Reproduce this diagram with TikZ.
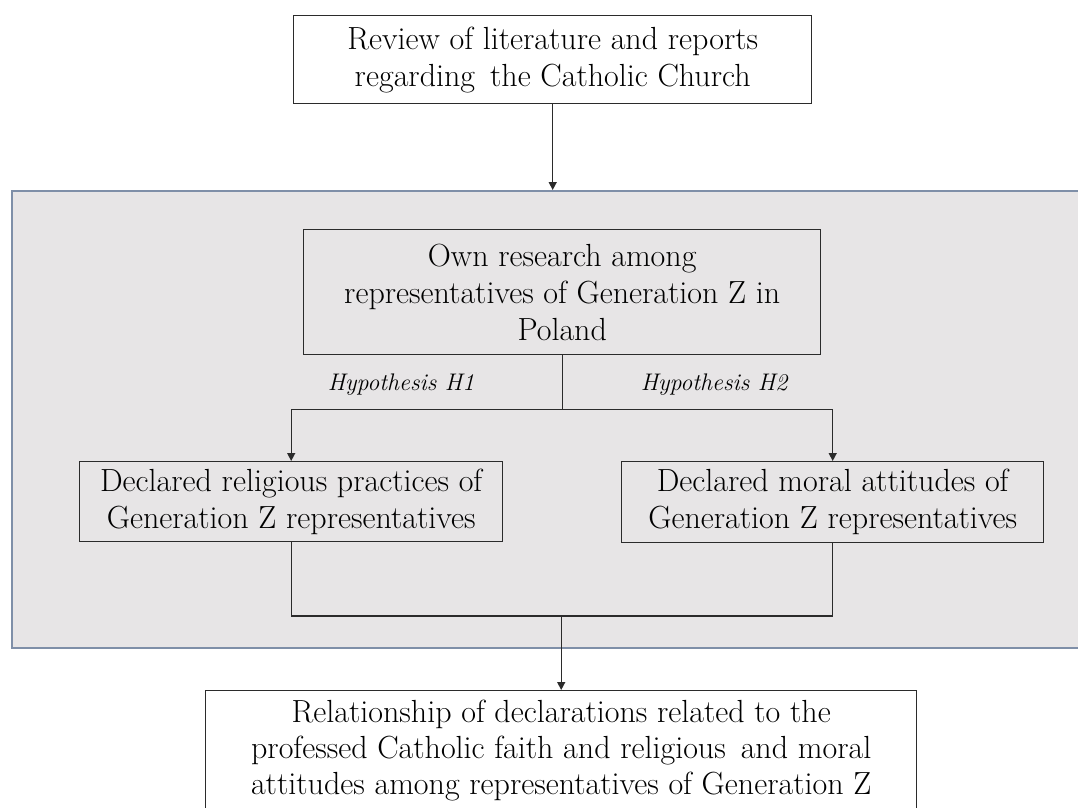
\documentclass[tikz,border=0pt]{standalone}
\usetikzlibrary{arrows.meta,calc}
\definecolor{panelfill}{HTML}{E7E5E6}
\definecolor{panelline}{HTML}{7F8FA8}
\definecolor{ink}{HTML}{2B2B2B}
\begin{document}
\begin{tikzpicture}[x=1pt,y=-1pt,
  box/.style={draw=ink, line width=1.4pt, fill=white, align=center, inner sep=0pt,
    font=\fontsize{32}{37}\selectfont, text=black},
  boxg/.style={box, fill=panelfill},
  conn/.style={draw=ink, line width=1.4pt},
  arr/.style={conn, -{Triangle[width=8pt,length=8pt]}},
  hyp/.style={font=\fontsize{24}{28}\selectfont\itshape, text=black, inner sep=0pt}]
\useasboundingbox (0,0) rectangle (1078,807);
\fill[white] (0,0) rectangle (1078,807);
% panel
\node[draw=panelline, line width=1.6pt, fill=panelfill, anchor=north west, inner sep=0pt,
  minimum width=1080pt, minimum height=457pt] (panel) at (11,190) {};
% top box
\node[box, anchor=north west, minimum width=518pt, minimum height=88pt] (review) at (293,15)
  {Review of literature and reports\\regarding\, the Catholic Church};
% own research
\node[boxg, anchor=north west, minimum width=517pt, minimum height=125pt] (own) at (303,229)
  {Own research among\\representatives of Generation Z in\\Poland};
% declared boxes
\node[boxg, anchor=north west, minimum width=423pt, minimum height=80pt] (rel) at (79,461)
  {Declared religious practices of\\Generation Z representatives};
\node[boxg, anchor=north west, minimum width=422pt, minimum height=81pt] (mor) at (621,461)
  {Declared moral attitudes of\\Generation Z representatives};
% final box
\node[box, anchor=north west, minimum width=711pt, minimum height=140pt] (fin) at (205,690) {};
\node[font=\fontsize{32}{36}\selectfont, align=center, anchor=north, inner sep=0pt] (fintext) at ($(fin.north)+(0,10)$)
  {Relationship of declarations related to the\\professed Catholic faith and religious\, and moral\\attitudes among representatives of Generation Z};
% junction coordinates
\coordinate (split) at ($(own.south)+(0,54)$);
\coordinate (splitL) at (rel.north |- split);
\coordinate (splitR) at (mor.north |- split);
\coordinate (join) at ($(fin.north)+(0,-74)$);
\coordinate (joinL) at (rel.south |- join);
\coordinate (joinR) at (mor.south |- join);
% connectors
\draw[arr] (review.south) -- (review.south |- panel.north);
\draw[conn] (own.south) -- (split);
\draw[arr] (splitL) -- (rel.north);
\draw[arr] (splitR) -- (mor.north);
\draw[conn] (splitL) -- (splitR);
\draw[conn] (rel.south) -- (joinL) -- (joinR) -- (mor.south);
\draw[arr] (join) -- (fin.north);
% hypothesis labels
\node[hyp] (h1) at (401,385) {Hypothesis H1};
\node[hyp] (h2) at (714,385) {Hypothesis H2};
\end{tikzpicture}
\end{document}
